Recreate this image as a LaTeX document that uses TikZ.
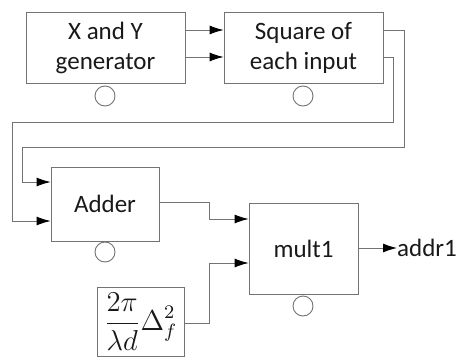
\documentclass[tikz,border=0pt]{standalone}
\usepackage{fontspec}
\setmainfont{Carlito}
\usepackage{amsmath}
\usetikzlibrary{arrows.meta,positioning,calc}
\definecolor{wire}{gray}{0.45}
\definecolor{ink}{gray}{0.1}
\tikzstyle{block}=[draw=wire, line width=0.9pt, inner sep=0pt, align=center, text=ink,
  font=\fontsize{25}{30}\selectfont]
\tikzstyle{port}=[circle, draw=wire, line width=0.9pt, minimum size=20pt, inner sep=0pt]
\tikzstyle{arrow}=[draw=wire, line width=0.9pt, -{Latex[black,length=14pt,width=9pt]}]

\begin{document}
\begin{tikzpicture}[x=1pt,y=-1pt]
    \useasboundingbox (0,0) rectangle (457,358);
    % blocks
    \node (gen) [block, minimum width=159pt, minimum height=71pt] at (105.5,47.5) {X and Y\\generator};
    \node (sq) [block, minimum width=159pt, minimum height=71pt] at (303.5,47.5) {Square of\\each input};
    \node (add) [block, minimum width=108pt, minimum height=74pt] at (105,204) {Adder};
    \node (mult) [block, minimum width=109pt, minimum height=91pt] at (303.5,248.5) {mult1};
    \node (const) [block, minimum width=87pt, minimum height=69pt, font=\fontsize{12}{14}\selectfont]
        at (140.5,321.5) {\scalebox{2.4}{$\displaystyle\frac{2\pi}{\lambda d}\Delta_f^2$}};
    \node (out) [anchor=west, inner sep=0pt, text=ink, font=\fontsize{25}{30}\selectfont] at (397,248) {addr1};
    % ports under the blocks
    \node (genp) [port] at (105,96) {};
    \node (sqp) [port] at (303,96) {};
    \node (addp) [port] at (105,252) {};
    \node (multp) [port] at (303,306) {};
    % bends of the wires
    \coordinate (r1) at (404,147);
    \coordinate (r2) at (393,122);
    \coordinate (l1) at (22,147);
    \coordinate (l2) at (12,122);
    \coordinate (m1) at (209,202);
    \coordinate (m2) at (209,323);
    % wires
    \path[arrow] (gen.east |- 0,30) -- (sq.west |- 0,30);
    \path[arrow] (gen.east |- 0,57) -- (sq.west |- 0,57);
    \path[arrow] (sq.east |- 0,30) -| (r1) -- (l1) |- (add.west |- 0,182);
    \path[arrow] (sq.east |- 0,57) -| (r2) -- (l2) |- (add.west |- 0,221);
    \path[arrow] (add.east |- m1) -- (m1) |- (mult.west |- 0,219);
    \path[arrow] (const.east |- m2) -- (m2) |- (mult.west |- 0,263);
    \path[arrow] (mult.east |- out) -- (out.west);
\end{tikzpicture}
\end{document}
